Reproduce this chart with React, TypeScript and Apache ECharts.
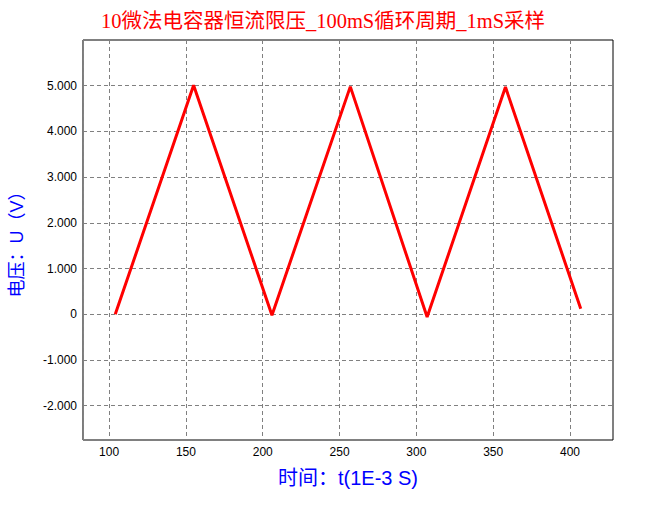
import React, { useEffect, useRef } from "react";
import * as echarts from "echarts";

// Vertices of the sampled triangle wave (time in 1E-3 s, voltage in V)
const timeMs = [104, 155, 206, 257, 307, 358, 407];
const voltage = [0.0, 5.01, -0.02, 4.98, -0.06, 4.97, 0.12];

const titleText = "10微法电容器恒流限压_100mS循环周期_1mS采样";
const xAxisName = "时间：t(1E-3 S)";
const yAxisName = "电压：U（V）";

export default function App() {
  const ref = useRef<HTMLDivElement>(null);
  useEffect(() => {
    document.body.style.margin = "0";
    if (!ref.current) return;
    const chart = echarts.init(ref.current, null, { renderer: "svg" });
    const gridLine = { show: true, lineStyle: { color: "#808080", type: [4, 3] as any, width: 1 } };
    chart.setOption({
      animation: false,
      backgroundColor: "#ffffff",
      title: {
        text: titleText,
        left: "center",
        top: 6,
        textStyle: {
          color: "#ff0000",
          fontSize: 20.5,
          fontWeight: "normal",
          fontFamily: "'Liberation Serif', 'Noto Sans CJK SC', serif",
        },
      },
      grid: {
        left: 79,
        top: 40,
        right: 33,
        bottom: 65,
        show: true,
        borderColor: "#000000",
        borderWidth: 1,
        backgroundColor: "transparent",
      },
      xAxis: {
        type: "value",
        min: 83,
        max: 428,
        splitNumber: 7,
        name: xAxisName,
        nameLocation: "middle",
        nameGap: 28,
        nameTextStyle: {
          color: "#0000ff",
          fontSize: 20,
          fontFamily: "'Liberation Sans', 'Noto Sans CJK SC', sans-serif",
        },
        axisLine: { show: false },
        axisTick: { show: false },
        axisLabel: {
          showMinLabel: false,
          showMaxLabel: false,
          color: "#000000",
          fontSize: 12,
          margin: 6,
          fontFamily: "'Liberation Sans', sans-serif",
        },
        splitLine: gridLine,
      },
      yAxis: {
        type: "value",
        min: -2.75,
        max: 6,
        splitNumber: 9,
        name: yAxisName,
        nameLocation: "middle",
        nameGap: 57,
        nameTextStyle: {
          color: "#0000ff",
          fontSize: 18,
          fontFamily: "'Liberation Sans', 'Noto Sans CJK SC', sans-serif",
        },
        axisLine: { show: false },
        axisTick: { show: false },
        axisLabel: {
          showMinLabel: false,
          showMaxLabel: false,
          color: "#000000",
          fontSize: 12,
          margin: 6,
          fontFamily: "'Liberation Sans', sans-serif",
          formatter: (v: number) => (v === 0 ? "0" : Number.isInteger(v) ? v.toFixed(3) : ""),
        },
        splitLine: gridLine,
      },
      series: [
        {
          type: "line",
          data: timeMs.map((t, i) => [t, voltage[i]]),
          showSymbol: false,
          lineStyle: { color: "#ff0000", width: 3 },
          itemStyle: { color: "#ff0000" },
        },
      ],
    });
    return () => chart.dispose();
  }, []);
  return <div ref={ref} style={{ width: 646, height: 505 }} />;
}
